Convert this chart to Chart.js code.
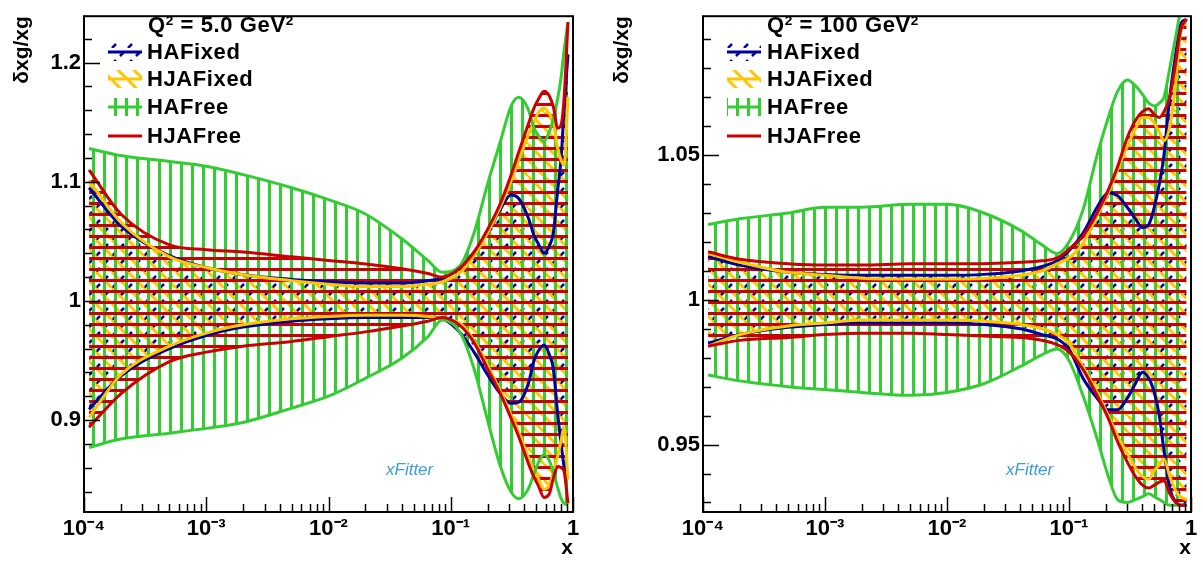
<!DOCTYPE html>
<html>
<head>
<meta charset="utf-8">
<title>xg uncertainty ratio</title>
<script src="https://cdn.jsdelivr.net/npm/chart.js@4.4.0/dist/chart.umd.min.js"></script>
<style>
  html, body { margin: 0; padding: 0; background: #fff; }
  body { width: 1203px; height: 565px; position: relative; overflow: hidden;
         font-family: 'Liberation Sans', Arial, Helvetica, sans-serif; }
  canvas { position: absolute; top: 0; }
  .lbl { position: absolute; font-weight: bold; font-size: 22px; line-height: 1; color: #000; white-space: nowrap; letter-spacing: 0.6px; }
  .lbl .sup { font-size: 0.62em; position: relative; top: -0.55em; }
  .logo { position: absolute; font-style: italic; font-size: 17px; line-height: 1; color: #3b9ede; white-space: nowrap; }
</style>
</head>
<body>
<canvas id="c5" width="600" height="565" style="left:0"></canvas>
<canvas id="c100" width="603" height="565" style="left:600px"></canvas>

<div class="lbl" style="left:148px; top:14px">Q<span class="sup">2</span> = 5.0 GeV<span class="sup">2</span></div>
<div class="lbl" style="left:147px; top:41px">HAFixed</div>
<div class="lbl" style="left:147px; top:68px">HJAFixed</div>
<div class="lbl" style="left:147px; top:96px">HAFree</div>
<div class="lbl" style="left:147px; top:125px">HJAFree</div>
<div class="logo" style="left:386px; top:461px">xFitter</div>

<div class="lbl" style="left:767px; top:14px">Q<span class="sup">2</span> = 100 GeV<span class="sup">2</span></div>
<div class="lbl" style="left:767px; top:41px">HAFixed</div>
<div class="lbl" style="left:767px; top:68px">HJAFixed</div>
<div class="lbl" style="left:767px; top:96px">HAFree</div>
<div class="lbl" style="left:767px; top:125px">HJAFree</div>
<div class="logo" style="left:1006px; top:461px">xFitter</div>

<script>
  // ---- Q2 = 5 GeV2 ----
  const q5X = [1.1e-4, 2e-4, 5e-4, 1e-3, 2e-3, 5e-3, 0.01, 0.02, 0.04, 0.065, 0.085, 0.12, 0.155, 0.2, 0.255, 0.31, 0.36, 0.43, 0.48, 0.52, 0.58, 0.64, 0.69, 0.75, 0.8, 0.845, 0.91];
  const q5HAFixedUp  = [1.095, 1.063, 1.038, 1.028, 1.022, 1.018, 1.016, 1.015, 1.015, 1.017, 1.019, 1.028, 1.041, 1.057, 1.077, 1.089, 1.086, 1.070, 1.055, 1.048, 1.040, 1.046, 1.057, 1.093, 1.120, 1.161, 1.207];
  const q5HAFixedDn  = [0.909, 0.937, 0.960, 0.971, 0.978, 0.983, 0.985, 0.986, 0.986, 0.986, 0.985, 0.973, 0.957, 0.938, 0.922, 0.914, 0.915, 0.930, 0.950, 0.958, 0.963, 0.955, 0.943, 0.905, 0.880, 0.861, 0.851];
  const q5HJAFixedUp = [1.101, 1.066, 1.037, 1.028, 1.022, 1.017, 1.014, 1.012, 1.012, 1.014, 1.016, 1.024, 1.038, 1.057, 1.079, 1.100, 1.118, 1.139, 1.150, 1.158, 1.162, 1.157, 1.150, 1.128, 1.118, 1.114, 1.171];
  const q5HJAFixedDn = [0.902, 0.938, 0.962, 0.973, 0.980, 0.985, 0.987, 0.988, 0.988, 0.987, 0.985, 0.981, 0.967, 0.946, 0.924, 0.905, 0.890, 0.869, 0.858, 0.851, 0.842, 0.845, 0.856, 0.870, 0.883, 0.894, 0.850];
  const q5HAFreeUp   = [1.128, 1.122, 1.117, 1.113, 1.106, 1.095, 1.085, 1.073, 1.052, 1.034, 1.024, 1.030, 1.057, 1.098, 1.134, 1.163, 1.171, 1.161, 1.145, 1.139, 1.134, 1.142, 1.153, 1.170, 1.188, 1.210, 1.234];
  const q5HAFreeDn   = [0.877, 0.884, 0.889, 0.893, 0.898, 0.910, 0.920, 0.935, 0.952, 0.970, 0.984, 0.973, 0.943, 0.900, 0.861, 0.840, 0.834, 0.842, 0.855, 0.864, 0.871, 0.866, 0.856, 0.843, 0.834, 0.830, 0.829];
  const q5HJAFreeUp  = [1.110, 1.073, 1.047, 1.043, 1.041, 1.037, 1.034, 1.031, 1.027, 1.023, 1.020, 1.028, 1.041, 1.060, 1.082, 1.105, 1.125, 1.148, 1.162, 1.169, 1.176, 1.172, 1.163, 1.145, 1.148, 1.170, 1.234];
  const q5HJAFreeDn  = [0.894, 0.922, 0.949, 0.957, 0.962, 0.966, 0.970, 0.974, 0.979, 0.983, 0.986, 0.979, 0.965, 0.943, 0.922, 0.902, 0.886, 0.864, 0.852, 0.845, 0.835, 0.838, 0.851, 0.861, 0.860, 0.857, 0.830];

  // ---- Q2 = 100 GeV2 ----
  const q100X = [1.1e-4, 2e-4, 5e-4, 1e-3, 2e-3, 5e-3, 0.01, 0.02, 0.04, 0.06, 0.08, 0.1, 0.13, 0.17, 0.21, 0.25, 0.3, 0.35, 0.4, 0.45, 0.5, 0.55, 0.6, 0.67, 0.75, 0.82, 0.92];
  const q100HAFixedUp  = [1.015, 1.012, 1.0095, 1.0088, 1.0085, 1.0085, 1.0085, 1.0088, 1.010, 1.0115, 1.0135, 1.017, 1.023, 1.032, 1.037, 1.036, 1.032, 1.028, 1.025, 1.026, 1.032, 1.040, 1.050, 1.070, 1.085, 1.095, 1.097];
  const q100HAFixedDn  = [0.985, 0.988, 0.9905, 0.9915, 0.992, 0.992, 0.992, 0.9915, 0.990, 0.988, 0.9865, 0.983, 0.973, 0.966, 0.962, 0.962, 0.966, 0.971, 0.975, 0.973, 0.968, 0.960, 0.948, 0.935, 0.930, 0.929, 0.929];
  const q100HJAFixedUp = [1.016, 1.013, 1.0095, 1.0085, 1.0075, 1.0072, 1.0072, 1.0074, 1.0085, 1.010, 1.0125, 1.0145, 1.0195, 1.029, 1.037, 1.045, 1.053, 1.059, 1.063, 1.063, 1.061, 1.058, 1.055, 1.060, 1.075, 1.092, 1.097];
  const q100HJAFixedDn = [0.984, 0.988, 0.991, 0.992, 0.993, 0.993, 0.993, 0.9926, 0.9915, 0.990, 0.988, 0.985, 0.977, 0.968, 0.960, 0.953, 0.947, 0.942, 0.939, 0.938, 0.941, 0.943, 0.945, 0.939, 0.934, 0.932, 0.931];
  const q100HAFreeUp   = [1.026, 1.028, 1.030, 1.032, 1.032, 1.033, 1.033, 1.030, 1.024, 1.019, 1.016, 1.020, 1.031, 1.050, 1.063, 1.072, 1.076, 1.074, 1.071, 1.068, 1.067, 1.068, 1.070, 1.080, 1.091, 1.100, 1.110];
  const q100HAFreeDn   = [0.974, 0.972, 0.970, 0.969, 0.968, 0.967, 0.968, 0.971, 0.977, 0.981, 0.983, 0.979, 0.967, 0.952, 0.939, 0.931, 0.930, 0.931, 0.932, 0.933, 0.932, 0.931, 0.930, 0.929, 0.929, 0.929, 0.929];
  const q100HJAFreeUp  = [1.0166, 1.014, 1.0125, 1.012, 1.012, 1.0125, 1.0125, 1.0125, 1.013, 1.0135, 1.0145, 1.0175, 1.022, 1.030, 1.038, 1.046, 1.056, 1.062, 1.065, 1.066, 1.064, 1.063, 1.065, 1.070, 1.082, 1.093, 1.097];
  const q100HJAFreeDn  = [0.984, 0.986, 0.987, 0.988, 0.9885, 0.9885, 0.988, 0.9875, 0.987, 0.986, 0.9845, 0.982, 0.976, 0.967, 0.959, 0.951, 0.944, 0.939, 0.936, 0.935, 0.936, 0.937, 0.9375, 0.933, 0.930, 0.929, 0.929];

  const xTicks = [1e-4, 1e-3, 1e-2, 1e-1, 1];
  const xTickLabels = ['10\u207B\u2074', '10\u207B\u00B3', '10\u207B\u00B2', '10\u207B\u00B9', '1'];
  const q5YTicks = [0.9, 1, 1.1, 1.2];
  const q100YTicks = [0.95, 1, 1.05];

  const BLUE = '#0000a0', YELLOW = '#ffc600', GREEN = '#33cc33', RED = '#cc0000';

  function hatch(ctx, kind, color) {
    const c = document.createElement('canvas');
    const g = c.getContext('2d');
    if (kind === 'vert') {
      c.width = 11; c.height = 11;
      g.fillStyle = color; g.fillRect(4, 0, 3, 11);
    } else if (kind === 'horiz') {
      c.width = 11; c.height = 11;
      g.fillStyle = color; g.fillRect(0, 4, 11, 3);
    } else {
      const s = 16;
      c.width = s; c.height = s;
      g.strokeStyle = color;
      g.lineWidth = kind === 'fwd' ? 2.5 : 3;
      if (kind === 'fwd') g.setLineDash([s * Math.SQRT2 / 4, s * Math.SQRT2 / 4]);
      for (const off of [-s, 0, s]) {
        g.beginPath();
        if (kind === 'back') { g.moveTo(off, 0); g.lineTo(off + s, s); }
        else { g.moveTo(off, s); g.lineTo(off + s, 0); }
        g.stroke();
      }
    }
    return ctx.createPattern(c, 'repeat');
  }

  const pts = (xs, ys) => xs.map((x, i) => ({ x, y: ys[i] }));

  function bandSets(label, xs, up, dn, color, pattern) {
    const line = { borderColor: color, borderWidth: 3, pointRadius: 0, cubicInterpolationMode: 'monotone' };
    return [
      { label, data: pts(xs, up), fill: pattern ? '+1' : false, backgroundColor: pattern || 'transparent', ...line },
      { label: label + ' low', data: pts(xs, dn), fill: false, ...line }
    ];
  }

  const rootStyle = {
    id: 'rootStyle',
    afterDraw(chart, args, opts) {
      const ctx = chart.ctx;
      const { left, right, top, bottom } = chart.chartArea;
      const xs = chart.scales.x, ys = chart.scales.y;
      ctx.save();
      ctx.strokeStyle = '#000';
      ctx.lineWidth = 1.5;
      // y ticks, inward
      const k0 = Math.ceil(ys.min / opts.yMinor - 1e-6), k1 = Math.floor(ys.max / opts.yMinor + 1e-6);
      for (let k = k0; k <= k1; k++) {
        const v = k * opts.yMinor;
        const r = v / opts.yMajor;
        const major = Math.abs(r - Math.round(r)) < 1e-6;
        const py = Math.round(ys.getPixelForValue(v)) + 0.5;
        ctx.beginPath(); ctx.moveTo(left, py); ctx.lineTo(left + (major ? 16 : 8), py); ctx.stroke();
      }
      // x ticks, inward
      for (let e = -4; e <= 0; e++) {
        for (let m = 1; m < 10; m++) {
          if (e === 0 && m > 1) break;
          const v = m * Math.pow(10, e);
          const px = Math.round(xs.getPixelForValue(v)) + 0.5;
          ctx.beginPath(); ctx.moveTo(px, bottom); ctx.lineTo(px, bottom - (m === 1 ? 15 : 8)); ctx.stroke();
        }
      }
      // frame
      ctx.lineWidth = 2;
      ctx.strokeRect(left, top, right - left, bottom - top);
      // legend swatches
      const rows = [52, 79, 107, 136];
      opts.legend.forEach((it, i) => {
        const x0 = left + 24, yc = rows[i];
        if (it.pattern) { ctx.fillStyle = it.pattern; ctx.fillRect(x0, yc - 9, 34, 18); }
        ctx.strokeStyle = it.color; ctx.lineWidth = 3;
        ctx.beginPath(); ctx.moveTo(x0, yc); ctx.lineTo(x0 + 34, yc); ctx.stroke();
      });
      ctx.restore();
    }
  };

  function makeChart(id, xs, series, yMin, yMax, yTicks, yMinor, yMajor, axisW, padRight) {
    const el = document.getElementById(id);
    const ctx = el.getContext('2d');
    const pBlue = hatch(ctx, 'fwd', BLUE);
    const pYellow = hatch(ctx, 'back', YELLOW);
    const pGreen = hatch(ctx, 'vert', GREEN);
    const pRed = hatch(ctx, 'horiz', RED);
    const datasets = [
      ...bandSets('HJAFree', xs, series.hjaFreeUp, series.hjaFreeDn, RED, pRed),
      ...bandSets('HAFree', xs, series.haFreeUp, series.haFreeDn, GREEN, pGreen),
      ...bandSets('HJAFixed', xs, series.hjaFixedUp, series.hjaFixedDn, YELLOW, pYellow),
      ...bandSets('HAFixed', xs, series.haFixedUp, series.haFixedDn, BLUE, pBlue)
    ];
    const tickFont = { family: "'Liberation Sans', Arial, sans-serif", size: 22, weight: 'bold' };
    const titleFont = { family: "'Liberation Sans', Arial, sans-serif", size: 21, weight: 'bold' };
    return new Chart(el, {
      type: 'line',
      data: { datasets },
      plugins: [rootStyle],
      options: {
        responsive: false,
        animation: false,
        layout: { padding: { top: 5, right: padRight, bottom: 0, left: 0 } },
        plugins: {
          legend: { display: false },
          tooltip: { enabled: false },
          filler: { drawTime: 'beforeDatasetsDraw' },
          rootStyle: {
            yMinor, yMajor,
            legend: [
              { pattern: pBlue, color: BLUE },
              { pattern: pYellow, color: YELLOW },
              { pattern: pGreen, color: GREEN },
              { pattern: null, color: RED }
            ]
          }
        },
        scales: {
          x: {
            type: 'logarithmic', min: 1e-4, max: 1,
            grid: { display: false, drawTicks: false },
            border: { display: false },
            afterBuildTicks: s => { s.ticks = xTicks.map(v => ({ value: v, major: true })); },
            afterFit: s => { s.height = 53; },
            ticks: {
              autoSkip: false, maxRotation: 0, padding: 4, color: '#000', font: tickFont,
              callback: v => xTickLabels[xTicks.findIndex(t => Math.abs(Math.log10(t) - Math.log10(v)) < 1e-6)]
            },
            title: { display: true, text: 'x', align: 'end', color: '#000', font: titleFont, padding: { top: 0, bottom: 4 } }
          },
          y: {
            type: 'linear', min: yMin, max: yMax,
            grid: { display: false, drawTicks: false },
            border: { display: false },
            afterBuildTicks: s => { s.ticks = yTicks.map(v => ({ value: v })); },
            afterFit: s => { s.width = axisW; },
            ticks: { padding: 3, color: '#000', font: tickFont, callback: v => String(v) },
            title: { display: true, text: '\u03B4xg/xg', align: 'end', color: '#000', font: titleFont, padding: { top: 10, bottom: 0 } }
          }
        }
      }
    });
  }

  makeChart('c5', q5X, {
    haFixedUp: q5HAFixedUp, haFixedDn: q5HAFixedDn,
    hjaFixedUp: q5HJAFixedUp, hjaFixedDn: q5HJAFixedDn,
    haFreeUp: q5HAFreeUp, haFreeDn: q5HAFreeDn,
    hjaFreeUp: q5HJAFreeUp, hjaFreeDn: q5HJAFreeDn
  }, 0.8228, 1.239, q5YTicks, 0.02, 0.1, 84, 27);

  makeChart('c100', q100X, {
    haFixedUp: q100HAFixedUp, haFixedDn: q100HAFixedDn,
    hjaFixedUp: q100HJAFixedUp, hjaFixedDn: q100HJAFixedDn,
    haFreeUp: q100HAFreeUp, haFreeDn: q100HAFreeDn,
    hjaFreeUp: q100HJAFreeUp, hjaFreeDn: q100HJAFreeDn
  }, 0.9267, 1.098, q100YTicks, 0.01, 0.05, 103, 12);
</script>
</body>
</html>
